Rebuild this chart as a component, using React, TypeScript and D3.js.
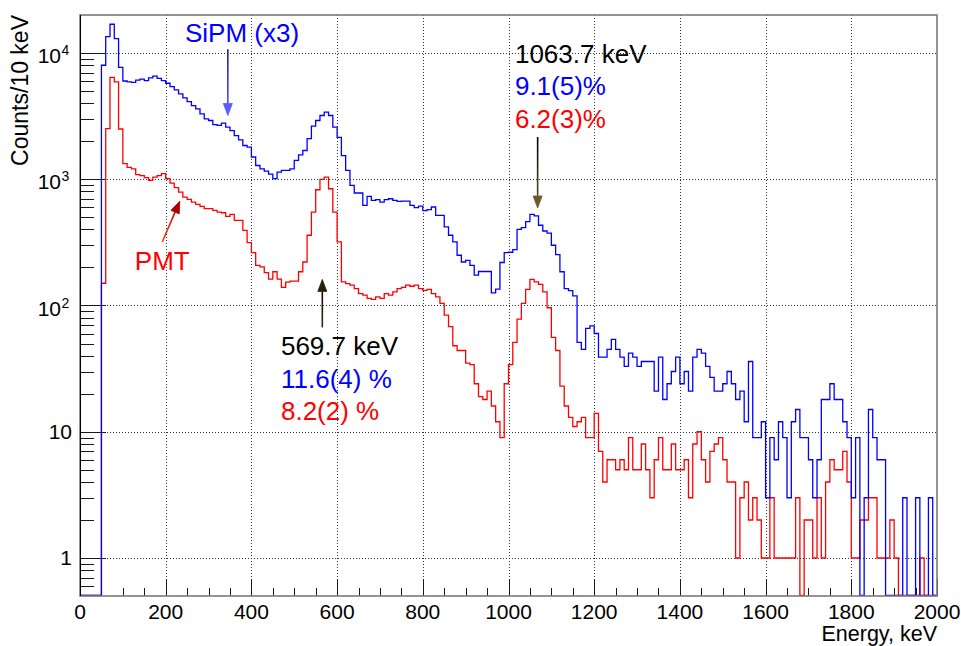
import React, { useRef, useEffect } from 'react';
import * as d3 from 'd3';

// histogram binning, keV
const binWidth = 10;
const energyRange: [number, number] = [0, 2000];
const countRange: [number, number] = [0.5, 20000];

// SiPM spectrum (already multiplied by 3), counts per 10 keV bin, bins 0..199
const sipmCounts = [
  0, 0, 0, 0, 0, 8000, 13500, 16900, 13000, 7700,
  6000, 5900, 5850, 6100, 6200, 6050, 6350, 6550, 6300, 6050,
  5760, 5420, 5100, 4740, 4410, 4120, 3830, 3610, 3290, 3010,
  2920, 2710, 2670, 2780, 2585, 2430, 2220, 2050, 1850, 1800,
  1500, 1285, 1210, 1160, 1100, 1010, 1140, 1175, 1175, 1210,
  1410, 1560, 1690, 2100, 2640, 2920, 3200, 3400, 3200, 2585,
  2150, 1540, 1175, 894, 778, 778, 621, 731, 680, 689,
  660, 689, 701, 680, 668, 670, 670, 621, 595, 613,
  565, 574, 603, 518, 518, 419, 360, 319, 250, 221,
  228, 208, 174, 186, 186, 186, 126, 135, 219, 262,
  264, 277, 401, 414, 462, 527, 512, 432, 389, 375,
  300, 253, 185, 136, 131, 119, 51, 45, 66, 69,
  60, 39, 39, 45, 54, 45, 39, 33, 42, 39,
  33, 36, 36, 36, 21, 39, 18, 24, 30, 39,
  24, 30, 21, 39, 45, 42, 33, 27, 21, 21,
  24, 30, 24, 18, 21, 12, 36, 9, 9, 12,
  3, 9, 6, 12, 9, 3, 12, 15, 9, 9,
  6, 3, 6, 18, 18, 24, 18, 18, 12, 9,
  3, 9, 0, 3, 15, 9, 6, 6, 0, 0,
  0, 0, 3, 0, 0, 3, 0, 0, 3, 0,
];

// PMT spectrum, counts per 10 keV bin, bins 0..199
const pmtCounts = [
  0, 0, 0, 0, 0, 150, 2520, 6420, 5900, 2500,
  1330, 1240, 1210, 1090, 1070, 1030, 980, 1040, 1070, 1110,
  1010, 933, 857, 792, 723, 693, 660, 633, 610, 585,
  585, 567, 550, 543, 508, 527, 473, 473, 394, 315,
  262, 208, 202, 182, 162, 185, 162, 139, 153, 156,
  156, 185, 221, 360, 550, 826, 997, 1040, 841, 550,
  319, 154, 149, 145, 136, 124, 121, 114, 112, 117,
  114, 124, 121, 128, 136, 139, 145, 142, 145, 136,
  132, 134, 124, 117, 104, 84, 68, 48, 44, 44,
  35, 34, 24, 19, 18, 21, 16, 12, 9, 24,
  34, 51, 78, 104, 134, 161, 154, 147, 128, 96,
  56, 44, 23, 16, 13, 11, 12, 13, 9, 9,
  14, 7, 4, 6, 6, 5, 6, 5, 9, 5,
  5, 8, 5, 3, 6, 9, 5, 5, 8, 5,
  5, 6, 3, 8, 10, 6, 4, 7, 8, 9,
  6, 4, 4, 1, 3, 4, 2, 3, 2, 1,
  1, 3, 1, 1, 1, 1, 1, 3, 0, 2,
  2, 1, 3, 1, 4, 6, 5, 5, 7, 4,
  1, 1, 2, 2, 3, 3, 1, 1, 1, 2,
  1, 0, 0, 0, 0, 0, 1, 0, 0, 0,
];

const xTicks = [0, 200, 400, 600, 800, 1000, 1200, 1400, 1600, 1800, 2000];
const xMinorStep = 50;
const yDecades = [1, 10, 100, 1000, 10000];

const peakLow = ['569.7 keV', '11.6(4) %', '8.2(2) %'];
const peakHigh = ['1063.7 keV', '9.1(5)%', '6.2(3)%'];

const App: React.FC = () => {
  const svgRef = useRef<SVGSVGElement>(null);

  useEffect(() => {
    if (!svgRef.current) return;
    const svg = d3.select(svgRef.current);
    svg.selectAll('*').remove();

    const width = 961;
    const height = 646;
    const left = 80, right = 937, top = 15, bottom = 596;
    const font = '"Liberation Sans", Arial, Helvetica, sans-serif';

    const x = d3.scaleLinear().domain(energyRange).range([left, right]);
    const y = d3.scaleLog().domain(countRange).range([bottom, top]);
    // empty bins sit on the bottom of the frame, like ROOT does on log scale
    const yc = (v: number) => (v > countRange[0] ? y(v) : bottom - 0.6);

    svg.append('rect').attr('width', width).attr('height', height).attr('fill', '#fff');
    const defs = svg.append('defs');

    // grid
    const grid = svg.append('g')
      .attr('stroke', '#333')
      .attr('stroke-width', 1)
      .attr('stroke-dasharray', '1,2');
    xTicks.filter(t => t > energyRange[0] && t < energyRange[1]).forEach(t => {
      grid.append('line')
        .attr('x1', Math.round(x(t)) + 0.5).attr('x2', Math.round(x(t)) + 0.5)
        .attr('y1', top).attr('y2', bottom);
    });
    yDecades.forEach(d => {
      grid.append('line')
        .attr('x1', left).attr('x2', right)
        .attr('y1', Math.round(y(d)) + 0.5).attr('y2', Math.round(y(d)) + 0.5);
    });

    // ticks
    const ticks = svg.append('g').attr('stroke', '#1a1a1a').attr('stroke-width', 1);
    d3.range(energyRange[0], energyRange[1] + 1, xMinorStep).forEach(e => {
      const major = xTicks.includes(e);
      const px = Math.round(x(e)) + 0.5;
      ticks.append('line')
        .attr('x1', px).attr('x2', px)
        .attr('y1', bottom).attr('y2', bottom - (major ? 17 : 8));
    });
    for (let k = -1; k <= 4; k++) {
      for (let m = 1; m <= 9; m++) {
        const v = m * Math.pow(10, k);
        if (v <= countRange[0] || v >= countRange[1]) continue;
        const py = Math.round(y(v)) + 0.5;
        ticks.append('line')
          .attr('x1', left).attr('x2', left + (m === 1 ? 26 : 14))
          .attr('y1', py).attr('y2', py);
      }
    }

    // histograms (PMT underneath, SiPM on top)
    const histPoints = (counts: number[]) => {
      const pts: [number, number][] = counts.map((c, i) => [energyRange[0] + i * binWidth, c]);
      pts.push([energyRange[0] + counts.length * binWidth, counts[counts.length - 1]]);
      return pts;
    };
    const step = d3.line<[number, number]>()
      .x(d => x(d[0]))
      .y(d => yc(d[1]))
      .curve(d3.curveStepAfter);

    svg.append('path')
      .attr('d', step(histPoints(pmtCounts)) || '')
      .attr('fill', 'none')
      .attr('stroke', '#ff0000')
      .attr('stroke-width', 1.3);
    svg.append('path')
      .attr('d', step(histPoints(sipmCounts)) || '')
      .attr('fill', 'none')
      .attr('stroke', '#0000ff')
      .attr('stroke-width', 1.3);

    // frame
    svg.append('rect')
      .attr('x', left).attr('y', top)
      .attr('width', right - left).attr('height', bottom - top)
      .attr('fill', 'none')
      .attr('stroke', '#7a7a7a')
      .attr('stroke-width', 1.6);
    svg.append('line')
      .attr('x1', left + 0.5).attr('x2', left + 0.5)
      .attr('y1', top).attr('y2', bottom)
      .attr('stroke', '#000').attr('stroke-width', 1);

    // tick labels
    const labels = svg.append('g').attr('font-family', font).attr('fill', '#000');
    xTicks.forEach(t => {
      labels.append('text')
        .attr('x', x(t)).attr('y', 619)
        .attr('text-anchor', 'middle')
        .attr('font-size', 21)
        .text(String(t));
    });
    yDecades.forEach(d => {
      const py = y(d);
      if (d < 100) {
        labels.append('text')
          .attr('x', 72).attr('y', py + 7.5)
          .attr('text-anchor', 'end')
          .attr('font-size', 21)
          .text(String(d));
      } else {
        labels.append('text')
          .attr('x', 61).attr('y', py + 10)
          .attr('text-anchor', 'end')
          .attr('font-size', 21)
          .text('10');
        labels.append('text')
          .attr('x', 61.5).attr('y', py + 2)
          .attr('font-size', 14)
          .text(String(Math.round(Math.log10(d))));
      }
    });

    // axis titles
    labels.append('text')
      .attr('transform', `translate(28,${top}) rotate(-90)`)
      .attr('text-anchor', 'end')
      .attr('font-size', 23)
      .text('Counts/10 keV');
    labels.append('text')
      .attr('x', right).attr('y', 641)
      .attr('text-anchor', 'end')
      .attr('font-size', 21.5)
      .text('Energy, keV');

    // arrows
    const drawArrow = (
      id: string,
      from: [number, number],
      to: [number, number],
      c0: string,
      c1: string,
      headColor: string
    ) => {
      const p0 = [x(from[0]), y(from[1])];
      const p1 = [x(to[0]), y(to[1])];
      const dx = p1[0] - p0[0], dy = p1[1] - p0[1];
      const len = Math.hypot(dx, dy);
      const ux = dx / len, uy = dy / len;
      const hl = 12, hw = 4.5;
      const bx = p1[0] - ux * hl, by = p1[1] - uy * hl;
      const grad = defs.append('linearGradient')
        .attr('id', id)
        .attr('gradientUnits', 'userSpaceOnUse')
        .attr('x1', p0[0]).attr('y1', p0[1])
        .attr('x2', p1[0]).attr('y2', p1[1]);
      grad.append('stop').attr('offset', '0%').attr('stop-color', c0);
      grad.append('stop').attr('offset', '100%').attr('stop-color', c1);
      svg.append('line')
        .attr('x1', p0[0]).attr('y1', p0[1])
        .attr('x2', bx).attr('y2', by)
        .attr('stroke', `url(#${id})`)
        .attr('stroke-width', 1.6);
      svg.append('path')
        .attr('d', `M${p1[0]},${p1[1]}L${bx - uy * hw},${by + ux * hw}L${bx + uy * hw},${by - ux * hw}Z`)
        .attr('fill', headColor)
        .attr('stroke', headColor)
        .attr('stroke-width', 0.8);
    };

    drawArrow('arr-sipm', [345, 10700], [345, 3200], '#1c1c90', '#5a5aff', '#5a5aff');
    drawArrow('arr-pmt', [192, 319], [233, 671], '#f04a20', '#a80000', '#a80000');
    drawArrow('arr-570', [565.5, 67], [565.5, 161], '#3a2a10', '#000000', '#2a1e0c');
    drawArrow('arr-1064', [1068, 2160], [1068, 592], '#000000', '#6e5a28', '#6e5a28');

    // annotations
    const note = svg.append('g').attr('font-family', font).attr('font-size', 26);
    note.append('text').attr('x', x(245)).attr('y', y(12200)).attr('fill', '#0000ff').text('SiPM (x3)');
    note.append('text').attr('x', x(128)).attr('y', y(190)).attr('fill', '#ff0000').text('PMT');

    const lineColors = ['#000000', '#0000ff', '#ff0000'];
    const lowCounts = [40.4, 22.1, 12.3];
    peakLow.forEach((t, i) => {
      note.append('text').attr('x', x(469)).attr('y', y(lowCounts[i])).attr('fill', lineColors[i]).text(t);
    });
    const highCounts = [8390, 4650, 2540];
    peakHigh.forEach((t, i) => {
      note.append('text').attr('x', x(1015)).attr('y', y(highCounts[i])).attr('fill', lineColors[i]).text(t);
    });
  }, []);

  return (
    <svg
      ref={svgRef}
      width={961}
      height={646}
      style={{ position: 'absolute', left: 0, top: 0, background: '#fff' }}
    />
  );
};

export default App;
